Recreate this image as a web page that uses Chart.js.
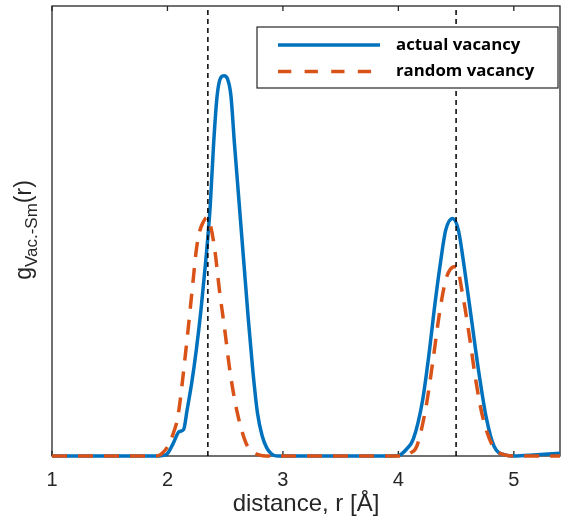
<!DOCTYPE html>
<html>
<head>
<meta charset="utf-8">
<script src="https://cdn.jsdelivr.net/npm/chart.js@4.4.0/dist/chart.umd.min.js"></script>
<style>
    html, body { margin: 0; padding: 0; background: #fff; }
    #wrap { width: 561px; height: 523px; }
</style>
</head>
<body>
<div id="wrap"><canvas id="rdf"></canvas></div>
<script>
// Vacancy - Sm pair distribution, g(r)
const seriesLabels = ['actual vacancy', 'random vacancy'];
const xTicks = [1, 2, 3, 4, 5];
const refLines = [2.35, 4.5];

const rActual = [1.00, 1.90, 1.99, 2.05, 2.10, 2.14, 2.17, 2.21, 2.25, 2.29, 2.33, 2.37, 2.40, 2.43, 2.46, 2.49,
    2.52, 2.55, 2.58, 2.62, 2.66, 2.70, 2.74, 2.78, 2.82, 2.86, 2.90, 2.95, 3.50, 3.95,
    4.01, 4.07, 4.13, 4.21, 4.27, 4.31, 4.36, 4.41, 4.47, 4.52, 4.57, 4.63, 4.69, 4.76, 4.83, 4.93, 5.00, 5.20, 5.40];
const gActual = [0, 0, 0.03, 0.28, 0.54, 0.59, 1.02, 1.62, 2.36, 3.24, 4.29, 5.54, 6.95, 8.00, 8.40, 8.45,
    8.38, 8.00, 6.95, 5.65, 4.35, 3.05, 1.88, 0.95, 0.45, 0.18, 0.05, 0, 0, 0,
    0.02, 0.15, 0.38, 1.24, 2.36, 3.24, 4.21, 5.02, 5.28, 5.02, 4.21, 3.10, 1.98, 0.87, 0.21, 0.02, 0, 0.03, 0.06];

const rRandom = [1.00, 1.90, 1.94, 2.00, 2.05, 2.09, 2.16, 2.22, 2.25, 2.28, 2.31, 2.34, 2.37, 2.41, 2.45, 2.50,
    2.54, 2.60, 2.68, 2.75, 2.80, 2.85, 4.05, 4.10, 4.16, 4.24, 4.30, 4.36, 4.41, 4.45, 4.50, 4.56, 4.62, 4.67,
    4.73, 4.82, 4.93, 5.00, 5.40];
const gRandom = [0, 0, 0.03, 0.20, 0.50, 0.87, 2.36, 3.84, 4.58, 5.00, 5.20, 5.30, 5.15, 4.58, 3.69, 2.73,
    1.91, 1.02, 0.29, 0.08, 0.02, 0, 0, 0.06, 0.22, 1.10, 2.13, 3.24, 3.91, 4.15, 4.21, 3.54, 2.58, 1.69,
    0.87, 0.21, 0.02, 0, 0];

const toPoints = (xs, ys) => xs.map((x, k) => ({ x: x, y: ys[k] }));

const seriesColors = ['#0072BD', '#D95319'];
const axisColor = '#262626';

// box, inward ticks and y label
const framePlugin = {
    id: 'frame',
    beforeDatasetsDraw(chart) {
        const { ctx, chartArea } = chart;
        const { left, right, top, bottom } = chartArea;
        const xs = chart.scales.x;
        ctx.save();
        ctx.strokeStyle = axisColor;
        ctx.lineWidth = 1.3;
        ctx.strokeRect(left, top, right - left, bottom - top);
        xTicks.forEach(v => {
            const px = xs.getPixelForValue(v);
            ctx.beginPath();
            ctx.moveTo(px, bottom);
            ctx.lineTo(px, bottom - 5);
            ctx.moveTo(px, top);
            ctx.lineTo(px, top + 5);
            ctx.stroke();
        });

        // g_{Vac.-Sm}(r)
        ctx.translate(31, 230);
        ctx.rotate(-Math.PI / 2);
        ctx.fillStyle = axisColor;
        ctx.textBaseline = 'alphabetic';
        const mainFont = '23px "Liberation Sans", Arial, sans-serif';
        const subFont = '17px "Liberation Sans", Arial, sans-serif';
        ctx.font = mainFont;
        const wg = ctx.measureText('g').width;
        const wr = ctx.measureText('(r)').width;
        ctx.font = subFont;
        const ws = ctx.measureText('Vac.-Sm').width;
        let x0 = -(wg + ws + wr) / 2;
        ctx.font = mainFont;
        ctx.fillText('g', x0, 0);
        ctx.font = subFont;
        ctx.fillText('Vac.-Sm', x0 + wg, 6);
        ctx.font = mainFont;
        ctx.fillText('(r)', x0 + wg + ws, 0);
        ctx.restore();
    }
};

// legend box in the upper right corner
const legendPlugin = {
    id: 'boxLegend',
    afterDraw(chart) {
        const { ctx, chartArea } = chart;
        const bx = 257, by = chartArea.top + 21;
        const bw = chartArea.right - 2 - bx, bh = 61;
        ctx.save();
        ctx.fillStyle = '#fff';
        ctx.fillRect(bx, by, bw, bh);
        ctx.strokeStyle = axisColor;
        ctx.lineWidth = 1.2;
        ctx.strokeRect(bx, by, bw, bh);
        ctx.lineWidth = 3.5;
        ctx.font = 'bold 16.8px "Open Sans", sans-serif';
        ctx.textBaseline = 'middle';
        ctx.fillStyle = '#000';
        seriesLabels.forEach((label, k) => {
            const y = by + 18 + k * 26.5;
            ctx.strokeStyle = seriesColors[k];
            ctx.setLineDash(k === 1 ? [13.3, 13.3] : []);
            ctx.beginPath();
            ctx.moveTo(bx + 21, y);
            ctx.lineTo(bx + (k === 1 ? 115 : 123), y);
            ctx.stroke();
            ctx.fillText(label, bx + 139, y);
        });
        ctx.restore();
    }
};

const refSets = refLines.map(v => ({
    data: [{ x: v, y: 0 }, { x: v, y: 10 }],
    borderColor: '#000',
    borderWidth: 1.5,
    borderDash: [5, 4],
    pointRadius: 0
}));

const ctx = document.getElementById('rdf').getContext('2d');
const rdfChart = new Chart(ctx, {
    type: 'line',
    data: {
        datasets: [
            ...refSets,
            {
                label: seriesLabels[1],
                data: toPoints(rRandom, gRandom),
                borderColor: seriesColors[1],
                borderWidth: 3.5,
                borderDash: [15, 11],
                pointRadius: 0,
                cubicInterpolationMode: 'monotone',
                clip: false
            },
            {
                label: seriesLabels[0],
                data: toPoints(rActual, gActual),
                borderColor: seriesColors[0],
                borderWidth: 3.5,
                pointRadius: 0,
                cubicInterpolationMode: 'monotone',
                clip: false
            }
        ]
    },
    options: {
        responsive: true,
        maintainAspectRatio: false,
        animation: false,
        devicePixelRatio: 1,
        layout: { padding: { top: 6, right: 1, left: 0, bottom: 0 } },
        plugins: { legend: { display: false }, tooltip: { enabled: false } },
        scales: {
            x: {
                type: 'linear',
                min: 1,
                max: 5.4,
                grid: { display: false, drawTicks: false },
                border: { display: false },
                afterBuildTicks: s => { s.ticks = xTicks.map(v => ({ value: v })); },
                afterFit: s => { s.height = 67; },
                ticks: {
                    color: axisColor,
                    padding: 12,
                    maxRotation: 0,
                    font: { family: '"Liberation Sans", Arial, sans-serif', size: 20 }
                },
                title: {
                    display: true,
                    text: 'distance, r [Å]',
                    color: axisColor,
                    padding: { top: 0 },
                    font: { family: '"Liberation Sans", Arial, sans-serif', size: 24 }
                }
            },
            y: {
                min: 0,
                max: 10,
                grid: { display: false, drawTicks: false },
                border: { display: false },
                ticks: { display: false },
                afterFit: s => { s.width = 52; }
            }
        }
    },
    plugins: [framePlugin, legendPlugin]
});
</script>
</body>
</html>
